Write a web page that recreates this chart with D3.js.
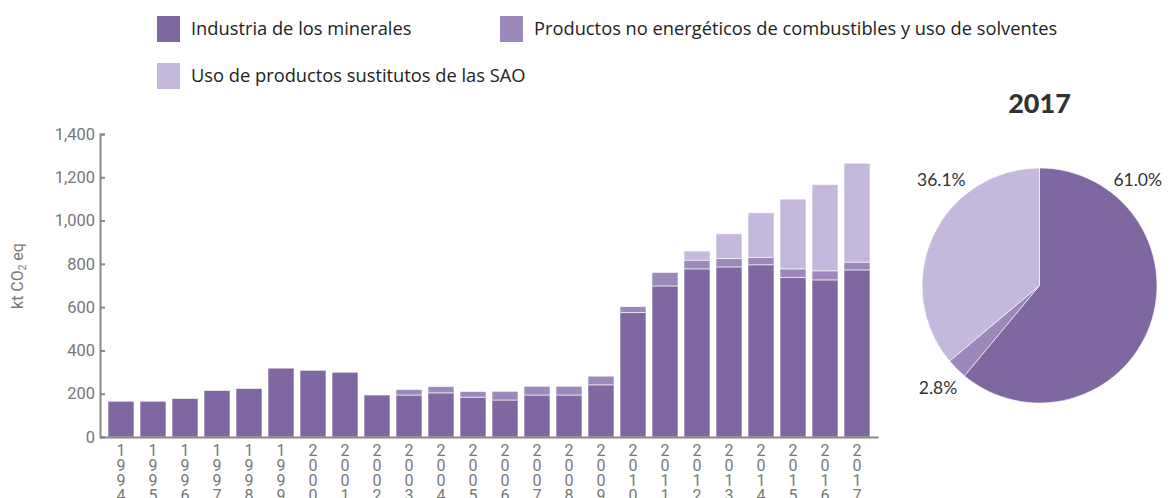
<!DOCTYPE html>
<html>
<head>
<meta charset="utf-8">
<script src="https://cdn.jsdelivr.net/npm/d3@7"></script>
<style>
  body { margin: 0; background: #fff; }
  svg { display: block; }
</style>
</head>
<body>
<div class="chart"></div>
<script>
const years = ['1994', '1995', '1996', '1997', '1998', '1999', '2000', '2001', '2002', '2003', '2004', '2005',
    '2006', '2007', '2008', '2009', '2010', '2011', '2012', '2013', '2014', '2015', '2016', '2017'];
const minerales = [165, 165, 178, 215, 224, 318, 308, 299, 194, 194, 204, 184,
    171, 194, 194, 241, 575, 698, 777, 786, 796, 737, 726, 772];
const productos = [0, 0, 0, 0, 0, 0, 0, 0, 0, 25, 29, 26,
    40, 40, 40, 40, 28, 62, 40, 39, 34, 40, 42, 36];
const sao = [0, 0, 0, 0, 0, 0, 0, 0, 0, 0, 0, 0,
    0, 0, 0, 0, 2, 0, 42, 114, 206, 322, 398, 457];
const seriesNames = ['Industria de los minerales',
    'Productos no energéticos de combustibles y uso de solventes',
    'Uso de productos sustitutos de las SAO'];
const colors = ['#7f67a1', '#9a89ba', '#c4b8dc'];
const yTicks = [0, 200, 400, 600, 800, 1000, 1200, 1400];
const pieYear = '2017';

const width = 1173, height = 498;
const keys = ['min', 'prod', 'sao'];
const rows = years.map((y, i) => ({ year: y, min: minerales[i], prod: productos[i], sao: sao[i] }));

const svg = d3.select('.chart')
    .append('svg')
        .attr('width', width)
        .attr('height', height);

const x = d3.scaleBand()
    .domain(years)
    .range([100, 878])
    .paddingInner(0.1875)
    .paddingOuter(0.25);

const y = d3.scaleLinear()
    .domain([0, 1400])
    .range([437, 134]);

const color = d3.scaleOrdinal().domain(keys).range(colors);

// stacked bars
const stacked = d3.stack().keys(keys)(rows);

svg.append('g')
    .selectAll('g')
    .data(stacked)
    .enter()
        .append('g')
        .attr('fill', d => color(d.key))
    .selectAll('rect')
    .data(d => d.filter(p => p[1] - p[0] > 0))
    .enter()
        .append('rect')
        .attr('x', d => x(d.data.year))
        .attr('width', x.bandwidth())
        .attr('y', d => y(d[1]))
        .attr('height', d => y(d[0]) - y(d[1]))
        .attr('stroke', '#fff')
        .attr('stroke-opacity', 0.6)
        .attr('stroke-width', 1);

// y axis
const yAxis = svg.append('g')
    .attr('transform', 'translate(100,0)')
    .call(d3.axisRight(y).tickValues(yTicks).tickSize(5).tickFormat(d3.format(',')));
yAxis.select('.domain').attr('stroke', '#888').attr('stroke-width', 2);
yAxis.selectAll('.tick line').attr('stroke', '#888').attr('stroke-width', 2);
yAxis.selectAll('.tick text')
    .attr('x', -5)
    .attr('text-anchor', 'end')
    .attr('fill', '#777')
    .style('font-family', 'Roboto, sans-serif')
    .style('font-size', '16.5px');

svg.append('text')
    .attr('transform', 'translate(23,276) rotate(-90)')
    .attr('text-anchor', 'middle')
    .attr('fill', '#777')
    .style('font-family', 'Roboto, sans-serif')
    .style('font-size', '16px')
    .text('kt CO')
    .call(t => t.append('tspan').attr('font-size', '10px').attr('dy', 3).text('2'))
    .call(t => t.append('tspan').attr('dy', -3).text(' eq'));

// x axis, digits stacked vertically
const xAxis = svg.append('g')
    .attr('transform', 'translate(0,437)')
    .call(d3.axisBottom(x).tickSize(0).tickFormat(''));
xAxis.select('.domain').attr('stroke', '#888').attr('stroke-width', 2);

const xLab = svg.append('g')
    .selectAll('text')
    .data(years)
    .enter()
        .append('text')
        .attr('text-anchor', 'middle')
        .attr('fill', '#777')
        .style('font-family', 'Roboto, sans-serif')
        .style('font-size', '16px');
xLab.selectAll('tspan')
    .data(d => d.split('').map(c => ({ c, x: x(d) + x.bandwidth() / 2 })))
    .enter()
        .append('tspan')
        .attr('x', d => d.x)
        .attr('y', (d, i) => 456 + i * 15)
        .text(d => d.c);

// legend
const legendPos = [[157, 16], [500, 16], [157, 63]];
const legend = svg.append('g')
    .selectAll('g')
    .data(seriesNames)
    .enter()
        .append('g')
        .attr('transform', (d, i) => `translate(${legendPos[i][0]},${legendPos[i][1]})`);
legend.append('rect')
    .attr('width', 23)
    .attr('height', 26)
    .attr('fill', (d, i) => colors[i]);
legend.append('text')
    .attr('x', 34)
    .attr('y', 19)
    .attr('fill', '#222')
    .style('font-family', '"Open Sans", sans-serif')
    .style('font-size', '18.3px')
    .text(d => d);

// pie for the last year
const last = years.indexOf(pieYear);
const pieVals = [minerales[last], productos[last], sao[last]];
const total = d3.sum(pieVals);
const cx = 1039.5, cy = 285.5, r = 117.5;

const arcs = d3.pie().sort(null)(pieVals);
const arc = d3.arc().innerRadius(0).outerRadius(r);

const pie = svg.append('g').attr('transform', `translate(${cx},${cy})`);
pie.selectAll('path')
    .data(arcs)
    .enter()
        .append('path')
        .attr('d', arc)
        .attr('fill', (d, i) => colors[i])
        .attr('stroke', '#fff')
        .attr('stroke-opacity', 0.6)
        .attr('stroke-width', 1);

// label angle: small slices at their middle, big ones near the top edge
const labelAngle = d => {
    const span = d.endAngle - d.startAngle;
    if (span < Math.PI / 2) return (d.startAngle + d.endAngle) / 2;
    const off = 43 * Math.PI / 180;
    return d.startAngle < 0.01 ? d.startAngle + off : d.endAngle - off;
};
pie.selectAll('text')
    .data(arcs)
    .enter()
        .append('text')
        .attr('x', d => Math.sin(labelAngle(d)) * 144)
        .attr('y', d => -Math.cos(labelAngle(d)) * 144 + 6)
        .attr('text-anchor', 'middle')
        .attr('fill', '#333')
        .style('font-family', 'Lato, sans-serif')
        .style('font-size', '17.5px')
        .text(d => d3.format('.1f')(d.value / total * 100) + '%');

svg.append('text')
    .attr('x', cx)
    .attr('y', 113)
    .attr('text-anchor', 'middle')
    .attr('fill', '#333')
    .style('font-family', 'Lato, sans-serif')
    .style('font-weight', '900')
    .style('font-size', '27px')
    .text(pieYear);
</script>
</body>
</html>
